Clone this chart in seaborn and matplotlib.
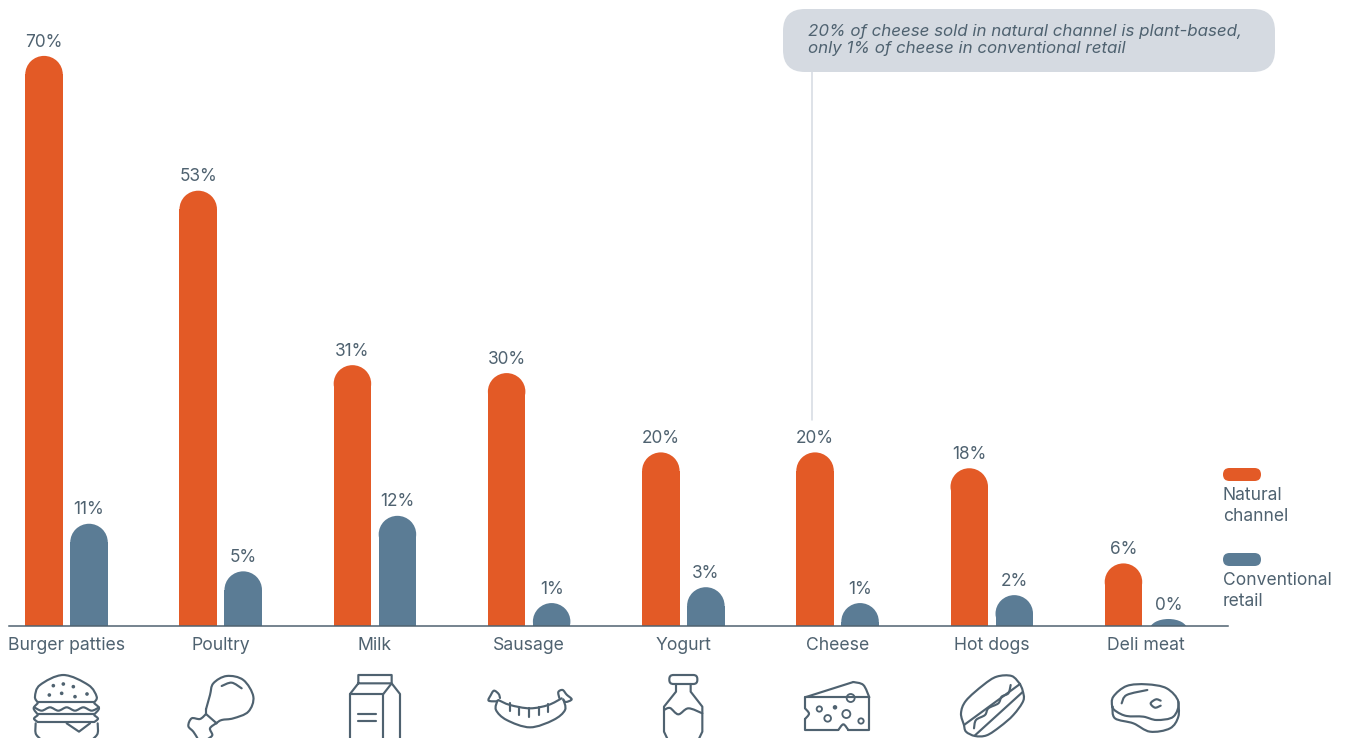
import numpy as np
import pandas as pd
import matplotlib
matplotlib.use("Agg")
import matplotlib.pyplot as plt
from matplotlib.patches import Ellipse, FancyBboxPatch, Circle, PathPatch
from matplotlib.path import Path
import seaborn as sns

categories = ["Burger patties", "Poultry", "Milk", "Sausage", "Yogurt", "Cheese", "Hot dogs", "Deli meat"]
natural_channel = [70, 53, 31, 30, 20, 20, 18, 6]
conventional_retail = [11, 5, 12, 1, 3, 1, 2, 0]
series_names = ["Natural channel", "Conventional retail"]
callout_text = "20% of cheese sold in natural channel is plant-based,\nonly 1% of cheese in conventional retail"

ORANGE = "#e35a26"
BLUE = "#5b7c95"
INK = "#4f6270"
PALE = "#d5dae1"
W, H = 1347, 738
PX_PER_UNIT = 7.93
BASE_Y = 626
STROKE = 1.55

sns.set_theme(style="white")
plt.rcParams["font.family"] = ["Inter", "DejaVu Sans"]

df = pd.DataFrame({
    "category": categories * 2,
    "share": natural_channel + conventional_retail,
    "channel": [series_names[0]] * 8 + [series_names[1]] * 8,
})

fig = plt.figure(figsize=(W / 100, H / 100), dpi=100, facecolor="white")
ax = fig.add_axes([9 / W, (H - BASE_Y) / H, (1228 - 9) / W, BASE_Y / H])
sns.barplot(data=df, x="category", y="share", hue="channel", hue_order=series_names,
            palette=[ORANGE, BLUE], saturation=1, width=0.5837, gap=0.167, linewidth=0,
            legend=False, ax=ax)

ax.set_xlim(-0.373, 7.532)
ax.set_ylim(0.44, 0.44 + BASE_Y / PX_PER_UNIT)
ax.set_xlabel("")
ax.set_ylabel("")
ax.set_yticks([])
ax.tick_params(axis="x", length=0, pad=8, labelsize=12.7, labelcolor=INK)
sns.despine(ax=ax, left=True)
ax.spines["bottom"].set_color(INK)
ax.spines["bottom"].set_linewidth(1.1)
ax.patch.set_alpha(0)

# Rounded tops and value labels sit on each bar's own geometry.
CAP = 18.5 / PX_PER_UNIT
FLAT_CAP = 10.5 / PX_PER_UNIT
for container in ax.containers:
    for rect in container.patches:
        value = rect.get_height()
        xc = rect.get_x() + rect.get_width() / 2
        cap = CAP if value > 0 else FLAT_CAP
        ax.add_patch(Ellipse((xc, value), rect.get_width(), 2 * cap,
                             facecolor=rect.get_facecolor(), linewidth=0))
        ax.annotate(f"{value:.0f}%", (xc, value + cap), xytext=(0, 10), textcoords="offset points",
                    ha="center", va="center", fontsize=12.4, color=INK)

# Overlay measured in figure pixels for the callout, legend and icons.
ov = fig.add_axes([0, 0, 1, 1], zorder=5)
ov.set_xlim(0, W)
ov.set_ylim(H, 0)
ov.axis("off")


def pill(x0, y0, x1, y1, radius, color):
    ov.add_patch(FancyBboxPatch((x0 + radius, y0 + radius), x1 - x0 - 2 * radius, y1 - y0 - 2 * radius,
                                boxstyle=f"round,pad={radius},rounding_size={radius}",
                                facecolor=color, linewidth=0))


ov.plot([812, 812], [72, 420], color=PALE, lw=1.1)
pill(783, 9, 1275, 72, 22, PALE)
ov.text(808, 40, callout_text, ha="left", va="center", style="italic", fontsize=12.2,
        color=INK, linespacing=1.12)

pill(1223, 468, 1261, 481, 6.5, ORANGE)
pill(1223, 553, 1261, 566, 6.5, BLUE)
ov.text(1223, 506, "Natural\nchannel", ha="left", va="center", fontsize=12.6, color=INK, linespacing=1.36)
ov.text(1223, 591, "Conventional\nretail", ha="left", va="center", fontsize=12.6, color=INK, linespacing=1.36)


# Icon strokes: points are in tripled page units relative to an origin.
def mapper(ox, oy=620):
    return lambda pts: [(ox + p[0] / 3, oy + p[1] / 3) for p in pts]


def line(pts, closed=False):
    if closed:
        pts = list(pts) + [pts[0]]
    xs, ys = zip(*pts)
    ov.plot(xs, ys, color=INK, lw=STROKE, solid_capstyle="round", solid_joinstyle="round")


def curve(pts, closed=False):
    p = np.array(pts, float)
    if closed:
        p = np.vstack([p[-1], p, p[0], p[1]])
    else:
        p = np.vstack([p[0], p, p[-1]])
    verts = [tuple(p[1])]
    codes = [Path.MOVETO]
    for i in range(1, len(p) - 2):
        verts += [tuple(p[i] + (p[i + 1] - p[i - 1]) / 6), tuple(p[i + 1] - (p[i + 2] - p[i]) / 6), tuple(p[i + 1])]
        codes += [Path.CURVE4] * 3
    ov.add_patch(PathPatch(Path(verts, codes), facecolor="none", edgecolor=INK, lw=STROKE,
                           capstyle="round", joinstyle="round"))


def ring(x, y, r, fill=False):
    ov.add_patch(Circle((x, y), r, facecolor=INK if fill else "none", edgecolor=INK, lw=STROKE * 0.85))


# Burger
m = mapper(25, 670)
curve(m([(38, 97), (30, 80), (45, 45), (115, 15), (190, 45), (215, 80), (208, 97)]))
line(m([(38, 97), (208, 97)]))
curve(m([(38, 100), (26, 115), (38, 133)]))
curve(m([(208, 100), (222, 115), (208, 133)]))
line(m([(38, 133), (208, 133)]))
curve(m([(28, 112), (50, 122), (75, 112), (100, 122), (125, 112), (150, 122), (175, 112), (200, 122), (222, 112)]))
curve(m([(38, 136), (27, 146), (38, 156)]))
curve(m([(208, 136), (219, 146), (208, 156)]))
line(m([(38, 156), (208, 156)]))
curve(m([(32, 160), (32, 190), (45, 206)]))
curve(m([(218, 160), (218, 190), (205, 206)]))
line(m([(125, 160), (162, 185), (195, 160)]))
for sx, sy in [(85, 47), (115, 42), (145, 50), (73, 75), (110, 70), (150, 80), (186, 72)]:
    ring(*m([(sx, sy)])[0], 0.9, fill=True)

# Poultry
m = mapper(0)
curve(m([(618, 268), (630, 225), (640, 190), (680, 168), (730, 180), (760, 230), (745, 275), (700, 295), (665, 300), (648, 310)]))
curve(m([(665, 198), (695, 188), (725, 205)]))
line(m([(618, 282), (650, 310)]))
line(m([(618, 268), (618, 282)]))
curve(m([(618, 282), (600, 297), (575, 295), (565, 318), (580, 335), (592, 354)]))
curve(m([(648, 310), (630, 325), (637, 345), (625, 356)]))

# Milk
line(m([(1075, 190), (1075, 165), (1175, 165), (1175, 190), (1075, 190), (1050, 222), (1050, 356)]))
line(m([(1050, 222), (1150, 222), (1150, 356)]))
line(m([(1150, 222), (1175, 190), (1200, 222), (1200, 356)]))
line(m([(1075, 282), (1127, 282)]))
line(m([(1075, 303), (1127, 303)]))

# Sausage
m = mapper(480, 680)
curve(m([(55, 60), (90, 75), (150, 85), (205, 75), (245, 55)]))
curve(m([(52, 62), (48, 90), (80, 120), (150, 142), (220, 120), (255, 90), (250, 58)]))
curve(m([(52, 64), (26, 62), (32, 46), (42, 32), (56, 42), (60, 54)]))
curve(m([(238, 54), (235, 36), (248, 30), (260, 44), (275, 58), (258, 66), (250, 60)]))
for tx, t0, t1 in [(90, 70, 92), (118, 82, 105), (148, 85, 110), (176, 82, 105), (205, 72, 95)]:
    line(m([(tx, t0), (tx, t1)]))

# Yogurt
m = mapper(450)
x0, y0 = m([(658, 165)])[0]
x1, y1 = m([(742, 192)])[0]
ov.add_patch(FancyBboxPatch((x0 + 4, y0 + 4), x1 - x0 - 8, y1 - y0 - 8, boxstyle="round,pad=4,rounding_size=4",
                            facecolor="none", edgecolor=INK, lw=STROKE))
line(m([(678, 192), (678, 215), (642, 260), (642, 335), (652, 356)]))
line(m([(722, 192), (722, 215), (757, 260), (757, 335), (747, 356)]))
curve(m([(642, 270), (660, 264), (685, 283), (715, 265), (757, 280)]))

# Cheese
curve(m([(1210, 186), (1240, 195), (1258, 232)]))
line(m([(1065, 232), (1210, 186)]))
line(m([(1258, 232), (1258, 330), (1195, 330)]))
curve(m([(1195, 330), (1180, 313), (1165, 330)]))
line(m([(1165, 330), (1065, 330), (1065, 297)]))
curve(m([(1065, 297), (1077, 281), (1065, 265)]))
line(m([(1065, 265), (1065, 232), (1258, 232)]))
for hx, hy, hr, solid in [(1202, 234, 12, False), (1108, 267, 8, False), (1155, 262, 4, True),
                          (1133, 295, 10, False), (1189, 282, 12, False), (1233, 303, 8, False)]:
    ring(*m([(hx, hy)])[0], hr / 3, fill=solid)

# Hot dog
m = mapper(950, 670)
curve(m([(42, 165), (33, 130), (48, 92), (100, 45), (140, 20), (185, 18), (210, 42)]))
line(m([(42, 165), (210, 42)]))
curve(m([(42, 165), (48, 185), (75, 198), (110, 196), (150, 170), (190, 135), (220, 92), (218, 62), (210, 42)]))
line(m([(75, 196), (218, 66)]))
curve(m([(72, 175), (78, 150), (105, 135), (115, 115), (145, 100), (155, 80), (175, 70), (182, 45)]))

# Deli meat
m = mapper(900, 440)
curve(m([(637, 800), (640, 770), (680, 738), (740, 733), (800, 745), (835, 785), (820, 830), (770, 840), (730, 830), (680, 828), (650, 815)]), closed=True)
curve(m([(637, 800), (645, 835), (700, 850), (750, 875), (810, 865), (835, 830), (835, 785)]))
curve(m([(665, 790), (680, 765), (742, 750)]))
curve(m([(782, 782), (768, 778), (752, 790), (765, 803), (782, 797)]))

fig.savefig("out.png", dpi=100, facecolor="white")
